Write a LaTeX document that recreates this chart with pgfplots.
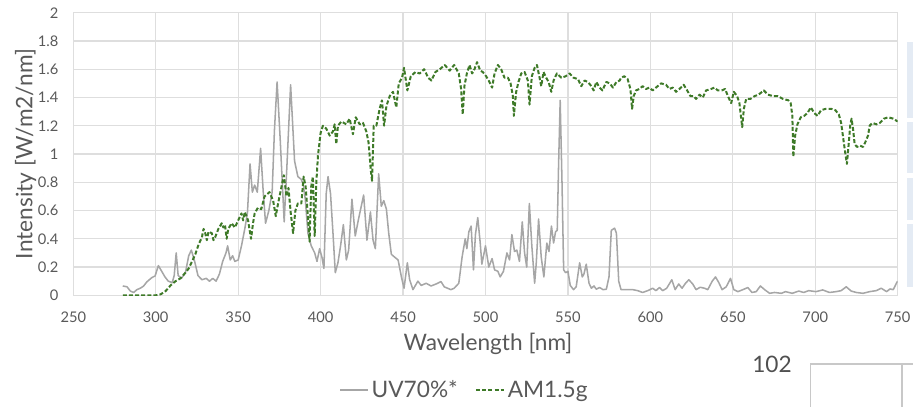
\documentclass[border=0pt]{standalone}
\usepackage{fontspec}
\setmainfont{Lato}
\usepackage{pgfplots}
\pgfplotsset{compat=1.18}
\definecolor{uvgray}{RGB}{166,166,166}
\definecolor{amgreen}{RGB}{62,122,40}
\definecolor{gridgray}{RGB}{222,222,222}
\definecolor{txtgray}{RGB}{89,89,89}
\definecolor{darktxt}{RGB}{80,80,80}
\definecolor{panelblue}{RGB}{228,235,244}
\definecolor{boxgray}{RGB}{200,200,200}
\begin{document}
\begin{tikzpicture}
\path[use as bounding box, clip] (-54.98pt,-83.03pt) rectangle (629.78pt,221.48pt);
\begin{axis}[
  at={(0pt,0pt)}, anchor=south west, scale only axis,
  width=618.3pt, height=211.95pt,
  xmin=250, xmax=750, ymin=0, ymax=2,
  xtick={250,300,350,400,450,500,550,600,650,700,750},
  ytick={0,0.2,0.4,0.6,0.8,1,1.2,1.4,1.6,1.8,2},
  grid=major,
  major grid style={draw=gridgray, line width=1pt},
  axis line style={draw=gridgray, line width=1pt},
  major tick length=0pt, tick style={draw=none},
  no markers,
  /pgf/number format/assume math mode=true,
  /pgf/number format/fixed,
  ticklabel style={font=\fontsize{11}{13}\selectfont, text=txtgray},
  yticklabel style={anchor=east, inner sep=0pt, xshift=-11pt},
  xticklabel style={anchor=north, inner sep=0pt, yshift=-12.5pt},
  xlabel={Wavelength [nm]}, ylabel={Intensity [W/m2/nm]},
  every axis x label/.style={at={(axis description cs:0.503,-0.196)}, anchor=base, inner sep=0pt, font=\fontsize{17}{20}\selectfont, text=txtgray},
  every axis y label/.style={at={(axis description cs:-0.0495,0.5)}, rotate=90, anchor=base, inner sep=0pt, font=\fontsize{17}{20}\selectfont, text=txtgray},
  legend style={at={(axis description cs:0.475,-0.335)}, anchor=center, draw=none, fill=none,
    font=\fontsize{17}{20}\selectfont, text=txtgray, legend columns=2,
    /tikz/every even column/.append style={column sep=11pt}, inner sep=0pt},
  legend image code/.code={\draw[#1] (0pt,0pt) -- (21pt,0pt);},
  legend cell align=left,
]
\addplot[uvgray, line width=1.15pt, line join=round] coordinates {
(280,0.066) (282.6,0.06) (284.6,0.03) (286.6,0.02) (288.6,0.04) (290.6,0.05) (292.6,0.065) (294.6,0.095)
(297.6,0.125) (299.6,0.137) (301.6,0.21) (303.6,0.17) (305.6,0.13) (307.6,0.10) (310,0.09) (311.2,0.14)
(312.4,0.30) (313.6,0.14) (315.6,0.12) (318,0.16) (320,0.28) (321.6,0.32) (323.6,0.24) (325.6,0.14)
(328,0.11) (330.6,0.12) (332.6,0.10) (334.6,0.12) (336.6,0.10) (338.6,0.15) (340.6,0.24) (342.6,0.30)
(343.6,0.35) (345.2,0.25) (346.6,0.28) (348,0.24) (350,0.25) (352,0.35) (354,0.47) (355.6,0.58)
(357.2,0.93) (358.6,0.73) (360,0.78) (361.6,0.73) (363.6,1.04) (365.2,0.73) (366.6,0.51) (368.6,0.60)
(370.6,0.73) (372,1.17) (373.6,1.51) (375.5,1.10) (377.9,0.52) (379.5,0.90) (381.8,1.49) (384.2,0.95)
(386.2,0.84) (388.3,0.82) (389.5,0.78) (390.7,0.68) (392.3,0.44) (394.3,0.35) (396.4,0.30) (397.8,0.24)
(399.4,0.33) (400.8,0.27) (402,0.19) (403.4,0.72) (404.5,0.84) (406,0.72) (407.5,0.44) (408.9,0.16)
(410.5,0.23) (412.1,0.35) (413.8,0.50) (415.6,0.25) (417,0.32) (419,0.68) (421,0.42) (423,0.54)
(426.1,0.71) (428.1,0.39) (430.2,0.59) (431.8,0.39) (433.2,0.33) (435.2,0.86) (436.8,0.63) (438.3,0.67)
(439.9,0.61) (441.3,0.44) (442.9,0.29) (444.9,0.27) (447,0.25) (449,0.13) (450.6,0.05) (452.6,0.23)
(454,0.11) (456,0.04) (459,0.10) (461,0.07) (464,0.085) (467,0.066) (470,0.08) (473,0.097)
(475,0.06) (479,0.04) (481,0.05) (483.8,0.085) (485.8,0.27) (487.7,0.40) (488.7,0.33) (489.9,0.45)
(491.3,0.49) (492.7,0.18) (493.9,0.43) (495.3,0.55) (496.8,0.37) (497.8,0.22) (500,0.35) (502,0.20)
(504,0.26) (505.5,0.18) (507.5,0.17) (508.9,0.13) (510.9,0.17) (513,0.30) (514.6,0.25) (516,0.43)
(517.6,0.31) (519,0.32) (520.6,0.24) (522.3,0.52) (523.7,0.30) (525,0.20) (526.6,0.65) (528.1,0.35)
(529.8,0.085) (530.8,0.23) (532.2,0.54) (533.8,0.27) (535.4,0.13) (537.2,0.37) (538.5,0.31) (540,0.49)
(541.3,0.37) (542.5,0.45) (543.5,0.46) (544.3,0.91) (545.3,1.38) (546.4,0.80) (547.4,0.18) (548.6,0.16)
(550,0.17) (551.4,0.07) (553.4,0.04) (555,0.06) (557.1,0.23) (558.7,0.13) (559.7,0.15) (561.1,0.22)
(562.8,0.085) (564.2,0.05) (565.8,0.066) (567.2,0.043) (569.2,0.055) (571.3,0.04) (573.3,0.043) (574.9,0.13)
(576.3,0.46) (578.3,0.475) (579.4,0.44) (580.8,0.10) (582.2,0.04) (585.2,0.04) (589.3,0.04) (592.3,0.033)
(595.3,0.02) (598.4,0.033) (601.4,0.05) (603.4,0.033) (605.5,0.055) (607.5,0.033) (609.9,0.05) (613,0.11)
(615,0.04) (617.2,0.08) (619.2,0.05) (621.3,0.085) (623.3,0.11) (625.7,0.08) (627.7,0.04) (630.2,0.057)
(632.8,0.05) (634.8,0.04) (637.5,0.10) (639.5,0.13) (641.5,0.09) (643.5,0.04) (646,0.06) (648.6,0.12)
(650.6,0.04) (653.1,0.026) (656.1,0.04) (659.1,0.055) (661.6,0.02) (664.2,0.026) (666.7,0.066) (669.3,0.04)
(672.3,0.014) (675.3,0.02) (679.4,0.014) (682,0.026) (686,0.014) (690,0.03) (693,0.02) (696,0.033)
(700.4,0.026) (704.5,0.038) (708.6,0.02) (712.7,0.026) (715.7,0.033) (718.8,0.06) (721.8,0.03) (724.9,0.02)
(729,0.014) (733,0.026) (737,0.033) (740,0.05) (743.3,0.026) (745.3,0.045) (747.3,0.04) (749.4,0.09) (750,0.10)
};
\addlegendentry{UV70\%*}
\addplot[amgreen, line width=1.5pt, line join=round, dash pattern=on 3pt off 1.6pt] coordinates {
(280,0) (290,0) (300,0) (303,0.007) (306,0.03) (309,0.07) (312,0.10) (315,0.12) (318,0.16) (320,0.19)
(322,0.24) (324,0.29) (326,0.36) (328,0.41) (329,0.47) (330,0.44) (331,0.39) (332,0.45) (334,0.44) (335,0.39)
(336,0.41) (338,0.47) (340,0.51) (341,0.48) (342,0.50) (343,0.40) (344,0.47) (346,0.51) (348,0.48) (350,0.53)
(352,0.58) (353,0.53) (354,0.59) (356,0.53) (357.8,0.40) (359,0.51) (360,0.58) (362,0.62) (364,0.61) (366,0.70)
(368,0.72) (369,0.73) (371.2,0.67) (372.8,0.56) (374.2,0.65) (376.3,0.77) (377.7,0.85) (379.3,0.70) (380.5,0.76) (381.9,0.58)
(383.3,0.44) (384.7,0.60) (386.2,0.65) (388.3,0.65) (389.7,0.84) (390.9,0.77) (392.3,0.56) (393.3,0.38) (394.3,0.77) (395.3,0.84)
(396.4,0.42) (397.4,0.80) (398.4,0.99) (400,1.15) (401.4,1.20) (403.4,1.18) (405.5,1.13) (407.5,1.16) (408.5,1.21) (409.5,1.07)
(410.5,1.20) (412.6,1.23) (415.6,1.21) (417.6,1.25) (419.6,1.14) (421.3,1.26) (423.7,1.21) (425.7,1.22) (427.7,1.16) (429.1,1.08)
(430.4,0.89) (431.2,0.81) (432.2,1.20) (433.8,1.20) (435.8,1.32) (437.2,1.38) (438.5,1.20) (439.9,1.34) (441.9,1.41) (443.9,1.44)
(445.9,1.33) (447.4,1.50) (449.4,1.54) (450.6,1.61) (452.6,1.45) (454.7,1.55) (457.5,1.58) (460.1,1.57) (462.8,1.60) (465.2,1.54)
(467.2,1.52) (469.6,1.58) (472.3,1.60) (475.3,1.63) (478.3,1.59) (481,1.63) (483.8,1.57) (485.2,1.46) (486.2,1.28) (487.2,1.48)
(488.7,1.57) (490.3,1.63) (491.9,1.57) (493.3,1.60) (494.9,1.65) (496.8,1.59) (498.4,1.58) (500.4,1.55) (502.4,1.51) (504,1.47)
(505.5,1.57) (507.5,1.63) (509.5,1.60) (511.5,1.54) (513.6,1.54) (515.2,1.50) (516.6,1.41) (517.2,1.27) (518.6,1.44) (520,1.51)
(521.7,1.57) (523.7,1.58) (525.7,1.52) (526.7,1.35) (528.1,1.55) (529.8,1.61) (531.2,1.63) (532.8,1.54) (533.8,1.48) (535.2,1.58)
(536.8,1.54) (538.3,1.51) (539.9,1.44) (541.3,1.52) (543.3,1.57) (546,1.54) (548.6,1.55) (551,1.57) (553.4,1.54) (556.1,1.53)
(558.1,1.48) (560.1,1.52) (562.1,1.51) (564.2,1.48) (565.6,1.45) (567.2,1.51) (569.2,1.47) (570.9,1.45) (573.3,1.51) (575.3,1.50)
(577.3,1.47) (579.4,1.51) (581.4,1.52) (582.2,1.54) (584.2,1.55) (586.2,1.53) (587.9,1.46) (588.9,1.32) (589.9,1.41) (591.3,1.45)
(593.3,1.46) (595.3,1.48) (597.4,1.46) (599.4,1.47) (601.4,1.45) (603.4,1.47) (606.5,1.50) (609.5,1.49) (611.5,1.46) (613.6,1.47)
(615.6,1.44) (617.6,1.46) (620.2,1.49) (622.3,1.45) (624.3,1.41) (626.3,1.41) (627.7,1.39) (629.8,1.42) (631.8,1.40) (633.8,1.45)
(636.8,1.46) (638.9,1.47) (640.9,1.45) (643.3,1.45) (645.3,1.46) (647.4,1.40) (649,1.36) (650.6,1.44) (652.6,1.41) (654,1.36)
(655.1,1.25) (655.7,1.19) (656.7,1.32) (658.1,1.39) (660.7,1.39) (663.2,1.41) (665.6,1.42) (668.8,1.45) (671.3,1.42) (674.3,1.41)
(677.3,1.41) (680.4,1.39) (683.7,1.38) (685.1,1.36) (686.1,1.27) (686.7,0.98) (687.8,1.13) (689.2,1.21) (691.2,1.26) (693.3,1.27)
(695.3,1.29) (697.3,1.33) (699.4,1.29) (701.4,1.27) (703.5,1.31) (706.5,1.32) (709.6,1.32) (712.2,1.31) (714.3,1.28) (715.7,1.22)
(717.1,1.10) (718.4,0.99) (719.2,0.93) (720.2,1.06) (721.2,1.20) (722,1.25) (722.9,1.18) (723.9,1.07) (725.3,1.05) (726.9,1.06)
(729,1.05) (730.6,1.09) (732,1.13) (733,1.20) (734.7,1.22) (737.1,1.21) (739.2,1.22) (741.6,1.25) (744.3,1.26) (747.3,1.25) (750,1.23)
};
\addlegendentry{AM1.5g}
\end{axis}
\node[font=\fontsize{17}{20}\selectfont, text=darktxt, inner sep=0pt] at (524pt,-51.9pt) {102};
\draw[boxgray, line width=1.1pt] (553pt,-90pt) -- (553pt,-51.5pt) -- (640pt,-51.5pt);
\draw[boxgray, line width=1.1pt] (621.5pt,-51.5pt) -- (621.5pt,-90pt);
\fill[panelblue] (625.3pt,132.98pt) rectangle (640pt,189.98pt);
\fill[panelblue] (625.3pt,91.7pt) rectangle (640pt,129.98pt);
\fill[panelblue] (625.3pt,56.5pt) rectangle (640pt,88pt);
\fill[panelblue] (625.3pt,6.2pt) rectangle (640pt,53.5pt);
\end{tikzpicture}
\end{document}
